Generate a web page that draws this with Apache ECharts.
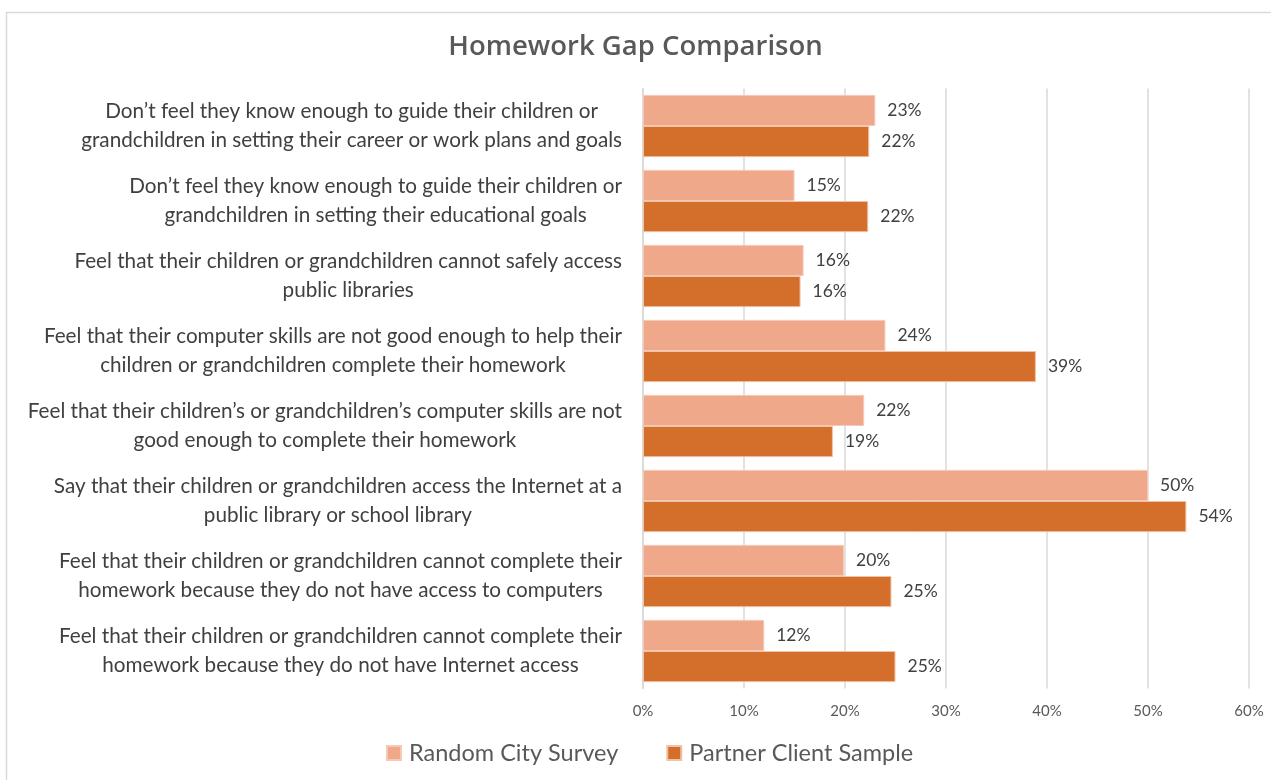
<!DOCTYPE html>
<html>
<head>
<meta charset="utf-8">
<script src="https://cdn.jsdelivr.net/npm/echarts@6/dist/echarts.min.js"></script>
<style>
html,body{margin:0;padding:0;background:#fff;}
#chart{width:1271px;height:780px;}
</style>
</head>
<body>
<div id="chart"></div>
<script>
const categories = [
  "Don\u2019t feel they know enough to guide their children or\ngrandchildren in setting their career or work plans and goals",
  "Don\u2019t feel they know enough to guide their children or\ngrandchildren in setting their educational goals",
  "Feel that their children or grandchildren cannot safely access\npublic libraries",
  "Feel that their computer skills are not good enough to help their\nchildren or grandchildren complete their homework",
  "Feel that their children\u2019s or grandchildren\u2019s computer skills are not\ngood enough to complete their homework",
  "Say that their children or grandchildren access the Internet at a\npublic library or school library",
  "Feel that their children or grandchildren cannot complete their\nhomework because they do not have access to computers",
  "Feel that their children or grandchildren cannot complete their\nhomework because they do not have Internet access"
];
const randomCitySurvey = [23.0, 15.0, 15.9, 24.0, 21.9, 50.0, 19.9, 12.0];
const partnerClientSample = [22.4, 22.3, 15.6, 38.9, 18.8, 53.8, 24.6, 25.0];
const seriesNames = ["Random City Survey", "Partner Client Sample"];
const xTicks = [0, 10, 20, 30, 40, 50, 60];

const chart = echarts.init(document.getElementById('chart'), null, {renderer: 'canvas'});
const catFont = 'Lato, "Open Sans", sans-serif';
const option = {
  animation: false,
  title: {
    text: 'Homework Gap Comparison',
    left: 'center',
    top: 28,
    textStyle: {fontFamily: '"Open Sans", sans-serif', fontWeight: 600, fontSize: 27.5, color: '#595959'}
  },
  graphic: [{
    type: 'rect',
    shape: {x: 6.5, y: 12.5, width: 1300, height: 800},
    style: {fill: 'none', stroke: '#d9d9d9', lineWidth: 1.5},
    silent: true
  }],
  legend: {
    data: seriesNames,
    left: 386,
    top: 741,
    padding: 0,
    itemWidth: 14,
    itemHeight: 14,
    itemGap: 48,
    icon: 'rect',
    textStyle: {fontFamily: catFont, fontSize: 23.5, color: '#595959', padding: [0, 0, 0, 3]}
  },
  grid: {left: 643, right: 22, top: 88.5, height: 600, containLabel: false},
  xAxis: {
    type: 'value',
    min: xTicks[0],
    max: xTicks[xTicks.length - 1],
    interval: 10,
    axisLine: {show: false},
    axisTick: {show: false},
    splitLine: {show: true, lineStyle: {color: '#d9d9d9', width: 1.5}},
    axisLabel: {
      formatter: v => v + '%',
      margin: 15,
      fontFamily: catFont,
      fontSize: 15,
      color: '#595959'
    }
  },
  yAxis: {
    type: 'category',
    data: categories,
    inverse: true,
    axisLine: {show: true, lineStyle: {color: '#d9d9d9', width: 1.5}},
    axisTick: {show: false},
    axisLabel: {
      margin: 21,
      align: 'right',
      formatter: v => v.split('\n').map(l => '{c|' + l + '}').join('\n'),
      rich: {
        c: {align: 'center', fontFamily: catFont, fontSize: 20.7, color: '#404040', lineHeight: 29}
      }
    }
  },
  series: [
    {
      name: seriesNames[0],
      type: 'bar',
      data: randomCitySurvey,
      barGap: '0%',
      barCategoryGap: '17%',
      itemStyle: {color: '#F0A88A', borderColor: '#F6C9B5', borderWidth: 1},
      label: {
        show: true, position: 'right', distance: 12,
        formatter: p => Math.round(p.value) + '%',
        fontFamily: catFont, fontSize: 17.5, color: '#404040'
      }
    },
    {
      name: seriesNames[1],
      type: 'bar',
      data: partnerClientSample,
      barGap: '0%',
      barCategoryGap: '17%',
      itemStyle: {color: '#D36E2B', borderColor: '#F2C2A6', borderWidth: 1},
      label: {
        show: true, position: 'right', distance: 12,
        formatter: p => Math.round(p.value) + '%',
        fontFamily: catFont, fontSize: 17.5, color: '#404040'
      }
    }
  ]
};
chart.setOption(option);
</script>
</body>
</html>
